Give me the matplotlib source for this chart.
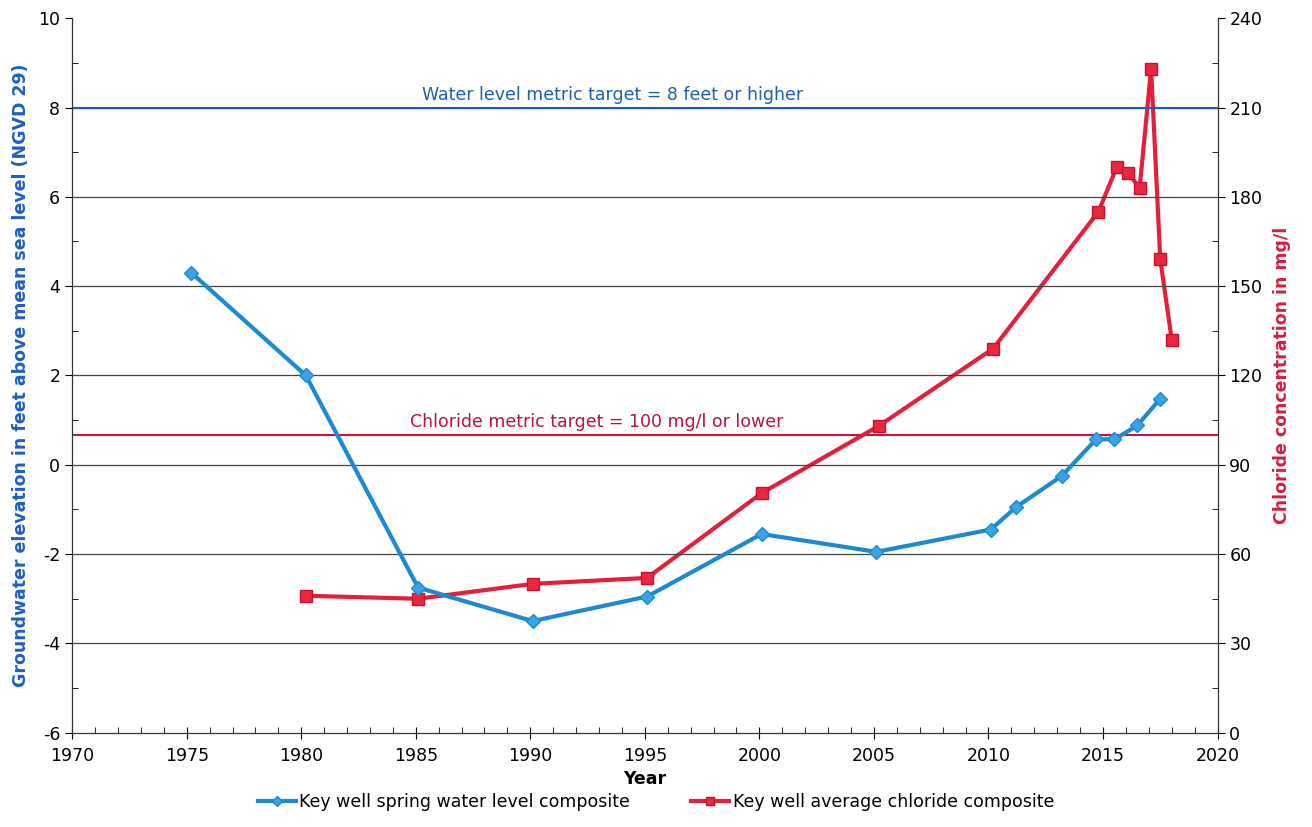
import matplotlib.pyplot as plt
from matplotlib.ticker import MultipleLocator

# water level composite (feet, NGVD 29)
wl_year = [1975.2, 1980.2, 1985.1, 1990.1, 1995.1, 2000.1, 2005.1, 2010.1, 2011.2, 2013.2, 2014.7, 2015.5, 2016.5, 2017.5]
wl_feet = [4.3, 2.0, -2.75, -3.5, -2.95, -1.55, -1.95, -1.45, -0.95, -0.25, 0.57, 0.57, 0.88, 1.48]

# chloride composite (mg/l)
cl_year = [1980.2, 1985.1, 1990.1, 1995.1, 2000.1, 2005.2, 2010.2, 2014.8, 2015.6, 2016.1, 2016.6, 2017.1, 2017.5, 2018.0]
cl_mgl = [46, 45, 50, 52, 80.5, 103, 129, 175, 190, 188, 183, 223, 159, 132]

wl_target = 8
cl_target = 100

plt.rcParams['axes.unicode_minus'] = False
blue = '#1b8ad3'
red = '#e3203c'

fig = plt.figure(figsize=(13.12, 8.27), dpi=100)
ax = fig.add_axes([0.055, 0.114, 0.873, 0.864])
ax2 = ax.twinx()

ax.set_xlim(1970, 2020)
ax.set_ylim(-6, 10)
ax2.set_ylim(0, 240)

for v in range(-4, 10, 2):
    ax.axhline(v, color='#444444', lw=0.9, zorder=1)

ax.axhline(wl_target, color='#1f5fb0', lw=1.5, zorder=2)
ax2.axhline(cl_target, color='#c4163c', lw=1.5, zorder=2)
ax.text(1993.6, wl_target + 0.08, 'Water level metric target = 8 feet or higher',
        color='#1f5fb0', fontsize=12.5, ha='center', va='bottom')
ax2.text(1992.9, cl_target + 1.5, 'Chloride metric target = 100 mg/l or lower',
         color='#b8143a', fontsize=12.5, ha='center', va='bottom')

l1, = ax.plot(wl_year, wl_feet, color=blue, lw=3, marker='D', ms=7,
              mfc='#3aa3e6', mec=blue, zorder=5,
              label='Key well spring water level composite')
l2, = ax2.plot(cl_year, cl_mgl, color=red, lw=3, marker='s', ms=8,
               mfc='#e8283f', mec='#c8102e', zorder=5,
               label='Key well average chloride composite')

ax.set_zorder(ax2.get_zorder() + 1)
ax.patch.set_visible(False)

ax.xaxis.set_major_locator(MultipleLocator(5))
ax.xaxis.set_minor_locator(MultipleLocator(1))
ax.yaxis.set_major_locator(MultipleLocator(2))
ax.yaxis.set_minor_locator(MultipleLocator(1))
ax2.yaxis.set_major_locator(MultipleLocator(30))
ax2.yaxis.set_minor_locator(MultipleLocator(15))

ax.tick_params(axis='x', which='major', direction='inout', length=8, labelsize=12.5, pad=6)
ax.tick_params(axis='x', which='minor', direction='in', length=4)
ax.tick_params(axis='y', which='major', direction='out', length=5, labelsize=12.5)
ax.tick_params(axis='y', which='minor', direction='in', length=4)
ax2.tick_params(axis='y', which='major', direction='out', length=5, labelsize=12.5)
ax2.tick_params(axis='y', which='minor', direction='in', length=4)

for a in (ax, ax2):
    for s in a.spines.values():
        s.set_color('#333333')
    a.spines['top'].set_visible(False)

ax.set_xlabel('Year', fontsize=12.5, fontweight='bold', labelpad=4)
ax.set_ylabel('Groundwater elevation in feet above mean sea level (NGVD 29)',
              color='#1f5fbf', fontsize=12.5, fontweight='bold', labelpad=6)
ax2.set_ylabel('Chloride concentration in mg/l', color='#d41f3f', fontsize=12.5,
               fontweight='bold', labelpad=8)

fig.legend(handles=[l1, l2], loc='lower center', bbox_to_anchor=(0.5, 0.0), ncol=2,
           frameon=False, prop={'size': 12.5}, handlelength=2.2,
           columnspacing=3.5, handletextpad=0.2, markerscale=0.8)

fig.savefig('out.png', dpi=100)
